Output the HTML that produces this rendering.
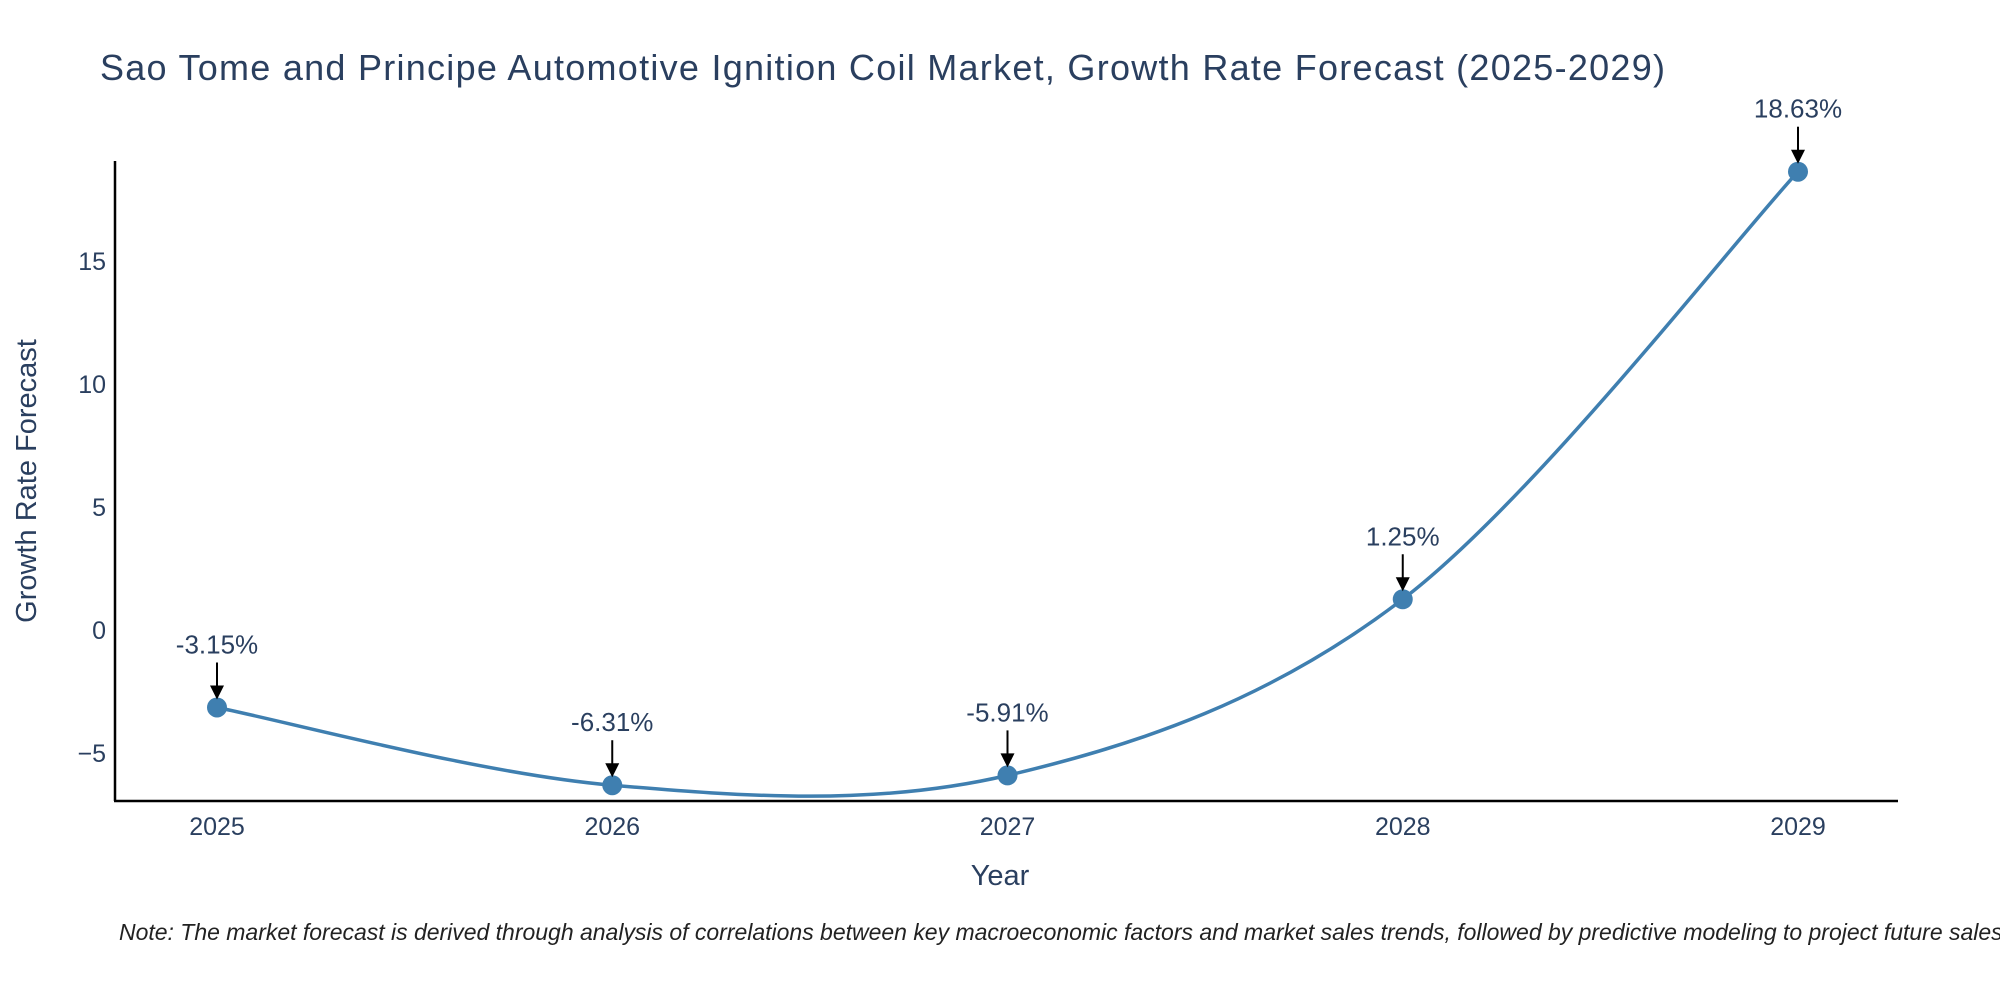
<!DOCTYPE html>
<html><head><meta charset="utf-8"><style>
body{margin:0;background:#fff;}
svg{display:block;font-family:"Liberation Sans",sans-serif;}
</style></head><body>
<svg id="chart" width="2000" height="1000" viewBox="0 0 2000 1000">
<text x="100" y="80" font-size="36" fill="#2a3f5f" textLength="1565">Sao Tome and Principe Automotive Ignition Coil Market, Growth Rate Forecast (2025-2029)</text>
<g id="axes"></g>
<g id="series"></g>
<text x="1000" y="885" font-size="29" fill="#2a3f5f" text-anchor="middle">Year</text>
<text transform="translate(36,481) rotate(-90)" font-size="29" fill="#2a3f5f" text-anchor="middle">Growth Rate Forecast</text>
<text x="119" y="940" font-size="23" font-style="italic" fill="#222" textLength="1890">Note: The market forecast is derived through analysis of correlations between key macroeconomic factors and market sales trends, followed by predictive modeling to project future sales.</text>
</svg>
<script>
const years = ["2025","2026","2027","2028","2029"];
const growth = [-3.15,-6.31,-5.91,1.25,18.63];
const yTicks = [-5,0,5,10,15];
const ns="http://www.w3.org/2000/svg";
const X0=217, X1=1798, Y0=630, PU=24.6;
function xs(i){return X0+(X1-X0)*i/(years.length-1);}
function ys(v){return Y0-v*PU;}
function mk(tag,attrs,parent){const e=document.createElementNS(ns,tag);for(const k in attrs)e.setAttribute(k,attrs[k]);parent.appendChild(e);return e;}
const axes=document.getElementById('axes'), ser=document.getElementById('series');
const yl=mk('line',{x1:115,y1:161,x2:115,y2:801,stroke:'#000','stroke-width':2.5},axes);


const xl=mk('line',{x1:114,y1:801,x2:1898,y2:801,stroke:'#000','stroke-width':2.5},axes);


yTicks.forEach(t=>{
 const e=mk('text',{x:106,y:ys(t)+9,'font-size':25,fill:'#2a3f5f','text-anchor':'end'},axes);
 e.textContent=t<0?'\u2212'+Math.abs(t):String(t);
 
 
});
years.forEach((y,i)=>{
 const e=mk('text',{x:xs(i),y:835,'font-size':25,fill:'#2a3f5f','text-anchor':'middle'},axes);
 e.textContent=y;
 
 
});
const P=growth.map((v,i)=>[xs(i),ys(v)]);
let d='M'+P[0][0]+','+P[0][1];
const s=0.5;
for(let i=0;i<P.length-1;i++){
 const p0=P[Math.max(i-1,0)],p1=P[i],p2=P[i+1],p3=P[Math.min(i+2,P.length-1)];
 const c1=[p1[0]+(p2[0]-p0[0])*s/3,p1[1]+(p2[1]-p0[1])*s/3];
 const c2=[p2[0]-(p3[0]-p1[0])*s/3,p2[1]-(p3[1]-p1[1])*s/3];
 d+=` C${c1[0]},${c1[1]} ${c2[0]},${c2[1]} ${p2[0]},${p2[1]}`;
}
const line=mk('path',{d:d,fill:'none',stroke:'#3f7fb0','stroke-width':3.5},ser);


growth.forEach((v,i)=>{
 const cx=xs(i),cy=ys(v);
 const c=mk('circle',{cx:cx,cy:cy,r:10,fill:'#3f7fb0'},ser);
 
 
 const a=mk('line',{x1:cx,y1:cy-45,x2:cx,y2:cy-20,stroke:'#000','stroke-width':2},ser);
 
 
 const h=mk('polygon',{points:`${cx-7},${cy-22} ${cx+7},${cy-22} ${cx},${cy-8}`,fill:'#000'},ser);
 
 
 const t=mk('text',{x:cx,y:cy-54,'font-size':26,fill:'#2a3f5f','text-anchor':'middle'},ser);
 t.textContent=v.toFixed(2)+'%';
 
 
});
</script>
</body></html>
